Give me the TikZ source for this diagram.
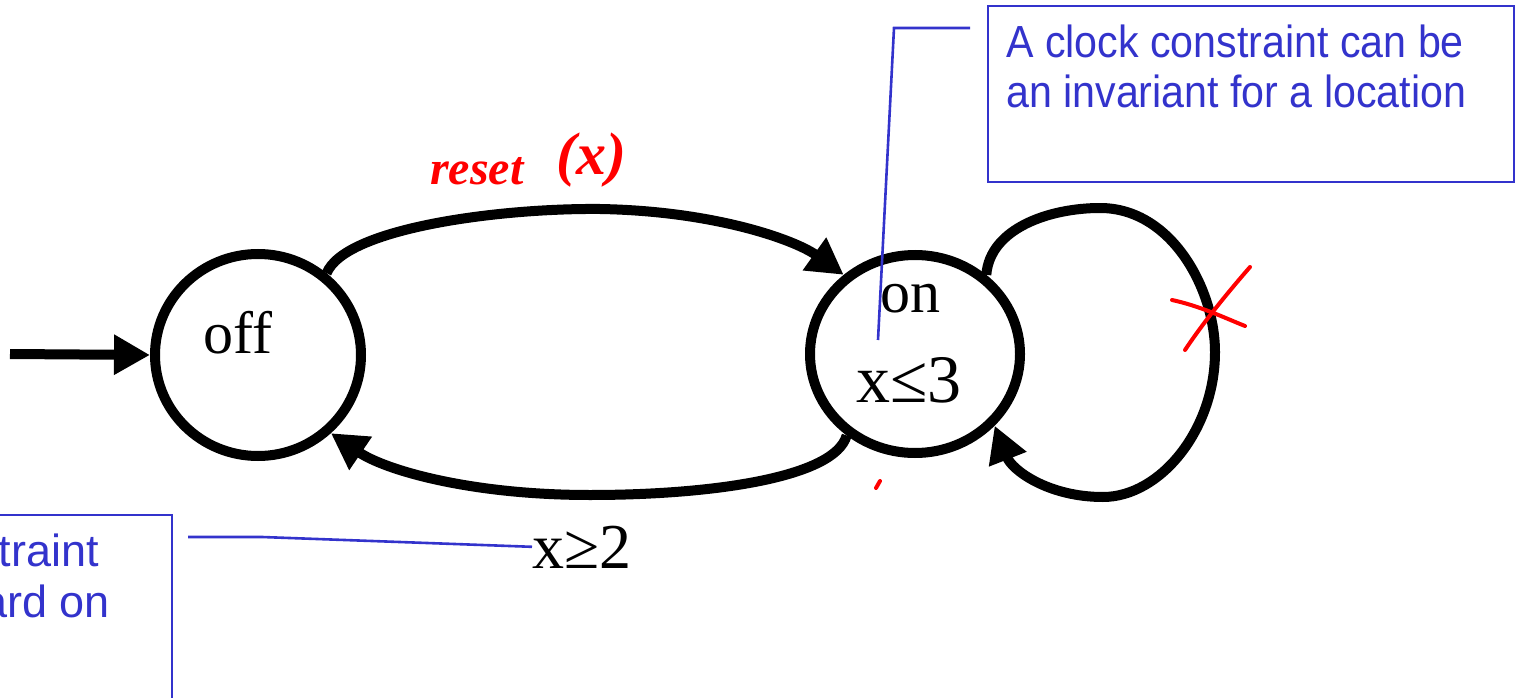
\documentclass[tikz,border=0pt]{standalone}
\usepackage{fontspec}
\setmainfont{Liberation Serif}
\setsansfont{Liberation Sans}
\newfontfamily\notefont[FakeStretch=0.915]{Liberation Sans}
\usetikzlibrary{arrows.meta,shapes.geometric}
\definecolor{noteblue}{RGB}{51,51,204}
\definecolor{inkred}{RGB}{255,0,0}
\tikzset{
  statebox/.style={draw=black, line width=10pt, ellipse, inner sep=0pt},
  trans/.style={draw=black, line width=10pt, -{Triangle[length=36pt,width=38pt]}},
  serifbig/.style={inner sep=0pt, font=\fontsize{60}{72}\selectfont\rmfamily},
  notebox/.style={draw=noteblue, line width=2.2pt, inner sep=0pt, anchor=north west},
  notetext/.style={inner sep=0pt, text=noteblue, font=\fontsize{45}{50}\selectfont\notefont},
  leader/.style={draw=noteblue, line width=2.6pt},
  ink/.style={draw=inkred, line width=4pt, line cap=round, line join=round},
  inktext/.style={inner sep=0pt, text=inkred, font=\fontsize{48}{50}\selectfont\bfseries\itshape},
}
\begin{document}
\begin{tikzpicture}[x=1pt, y=-1pt]
\useasboundingbox (0,0) rectangle (1515,698);

% states
\node[statebox, minimum width=206pt, minimum height=202pt] (off) at (258,355) {};
\node[statebox, minimum width=210pt, minimum height=198pt] (on) at (915,354) {};
\node[serifbig, anchor=base west] (offlbl) at (203,353) {off};
\node[serifbig, anchor=base] (onlbl) at (910,312) {on};
\node[serifbig, anchor=base, font=\fontsize{68}{80}\selectfont\rmfamily] (inv) at (909,402) {x≤3};

% initial arrow
\coordinate (init) at (10,354);
\draw[trans] (init) -- (off.west);

% off -> on (top)
\draw[trans] (off.50) .. controls (345,228) and (500,208) .. (600,209)
  .. controls (715,211) and (795,240) .. (on.132);

% on -> off (bottom)
\draw[trans] (on.230) .. controls (835,478) and (710,495) .. (590,495)
  .. controls (470,495) and (385,470) .. (off.-47);

% self loop on on
\draw[trans] (on.48) .. controls (990,228) and (1050,208) .. (1100,208)
  .. controls (1172,208) and (1215,290) .. (1215,352)
  .. controls (1215,430) and (1160,497) .. (1103,497)
  .. controls (1048,497) and (1012,470) .. (on.-42);

% guard label
\node[serifbig, anchor=base west, font=\fontsize{64}{76}\selectfont\rmfamily] (guard) at (532,568) {x≥2};

% top note
\node[notebox, minimum width=526pt, minimum height=176pt] (tnote) at (987,5) {};
\node[notetext, anchor=base west, align=left] (ttext) at (1006,58) {A clock constraint can be};
\node[notetext, anchor=base west, align=left] (ttext2) at (1006,108) {an invariant for a location};
\coordinate (ta) at (970,28);
\coordinate (tb) at (894,28);
\coordinate (tc) at (878,340);
\draw[leader] (ta) -- (tb) -- (tc);

% bottom note (cut off at left)
\node[notebox, minimum width=200pt, minimum height=200pt] (bnote) at (-29,514) {};
\node[notetext, anchor=base east, font=\fontsize{45}{50}\selectfont\sffamily] (btext) at (99,566) {traint};
\node[notetext, anchor=base east, font=\fontsize{45}{50}\selectfont\sffamily] (btext2) at (110,617) {ard on};
\coordinate (ba) at (188,537);
\coordinate (bb) at (262,537);
\draw[leader] (ba) -- (bb) -- (guard.west);

% red handwritten annotations
\node[inktext, anchor=base west] (reset) at (430,184) {reset};
\node[inktext, anchor=base west, font=\fontsize{60}{62}\selectfont\bfseries\itshape] (resetx) at (556,174) {(x)};
\coordinate (x1) at (1172,300);
\coordinate (x2) at (1245,326);
\coordinate (x3) at (1185,350);
\coordinate (x4) at (1250,267);
\draw[ink] (x1) .. controls (1200,306) and (1225,318) .. (x2);
\draw[ink] (x3) .. controls (1205,320) and (1230,290) .. (x4);
\coordinate (d1) at (876,488);
\coordinate (d2) at (880,481);
\draw[ink] (d1) -- (d2);
\end{tikzpicture}
\end{document}
